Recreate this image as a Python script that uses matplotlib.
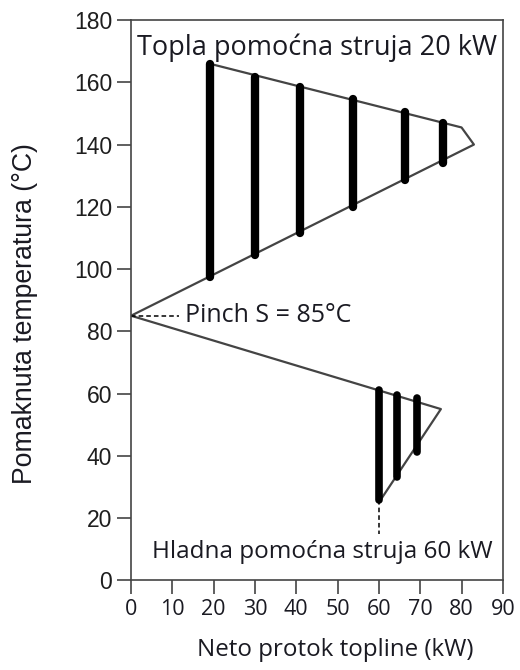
import matplotlib
matplotlib.use("Agg")
import matplotlib.pyplot as plt

# velika složena krivulja (grand composite curve)
gcc_x = [19, 80, 83, 0, 75, 60]
gcc_y = [166, 145.5, 140, 85, 55, 25]

# vruća pomoćna struja - vertikalne crte
hot_x = [19, 30, 40.8, 53.8, 66.2, 75.5]
hot_lo = [97.5, 104.5, 111.5, 119.8, 128.5, 134]
hot_hi = [166, 161.8, 158.5, 154.5, 150.5, 147]

# hladna pomoćna struja
cold_x = [60, 64.5, 69.3]
cold_lo = [25.8, 33.2, 41.2]
cold_hi = [61.2, 59.4, 58.4]

pinch = 85

fig = plt.figure(figsize=(5.2, 6.7), dpi=100)
ax = fig.add_axes([0.252, 0.134, 0.715, 0.836])

ax.plot(gcc_x, gcc_y, color="#444444", lw=1.6, zorder=2)
for x, lo, hi in zip(hot_x, hot_lo, hot_hi):
    ax.plot([x, x], [lo, hi], color="black", lw=6, solid_capstyle="round", zorder=3)
for x, lo, hi in zip(cold_x, cold_lo, cold_hi):
    ax.plot([x, x], [lo, hi], color="black", lw=5.5, solid_capstyle="round", zorder=3)

ax.plot([0, 11.5], [pinch, pinch], color="black", lw=1.1, ls=(0, (3, 2)))
ax.plot([60, 60], [cold_lo[0], 15], color="black", lw=1.1, ls=(0, (3, 2)))

txtfont = "Open Sans"
tc = "#1a1a22"
ax.text(13, pinch, "Pinch S = 85°C", fontsize=18, family=txtfont, va="center", ha="left", color=tc)
ax.text(1.5, 171, "Topla pomoćna struja 20 kW", fontsize=19.5, family=txtfont, va="center", ha="left", color=tc)
ax.text(5, 9, "Hladna pomoćna struja 60 kW", fontsize=17.5, family=txtfont, va="center", ha="left", color=tc)

ax.set_xlim(0, 90)
ax.set_ylim(0, 180)
ax.set_xticks(range(0, 91, 10))
ax.set_yticks(range(0, 181, 20))
for s in ax.spines.values():
    s.set_linewidth(1.2)
    s.set_color("#444444")
ax.tick_params(length=10, width=1.2, color="#444444")
for lab in ax.get_yticklabels():
    lab.set_fontfamily("Liberation Sans")
    lab.set_fontsize(16.5)
    lab.set_color("#1e1e1e")
for lab in ax.get_xticklabels():
    lab.set_fontfamily(txtfont)
    lab.set_fontsize(15.5)
    lab.set_color(tc)

ax.set_xlabel("Neto protok topline (kW)", fontsize=17.4, family=txtfont, color=tc)
ax.set_ylabel("Pomaknuta temperatura (°C)", fontsize=19.2, family="Liberation Sans", color=tc)
ax.xaxis.set_label_coords(0.55, -0.103)
ax.yaxis.set_label_coords(-0.286, 0.476)
ax.yaxis.label.set_va("center")

fig.savefig("out.png", dpi=100)
